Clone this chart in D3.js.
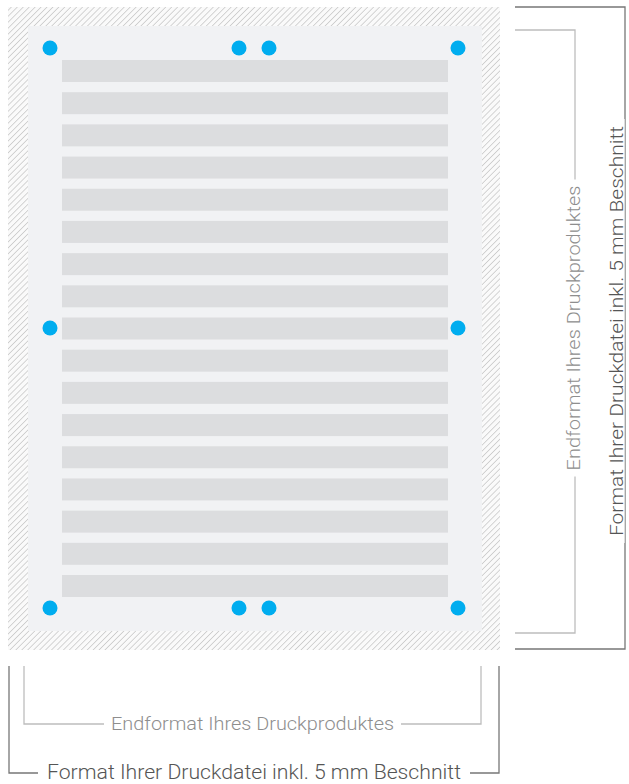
<!DOCTYPE html>
<html>
<head>
<meta charset="utf-8">
<script src="https://cdn.jsdelivr.net/npm/d3@7"></script>
<style>
  body { margin: 0; background: #fff; }
  svg { display: block; }
</style>
</head>
<body>
<div id="chart"></div>
<script>
// Page layout values (pixels of the drawing)
var bleedBox = [8, 7, 500, 650];      // x0, y0, x1, y1 of the file incl. bleed
var trimBox  = [28, 26, 482, 631];    // final format
var textRows = ["r1","r2","r3","r4","r5","r6","r7","r8","r9","r10","r11","r12","r13","r14","r15","r16","r17"];
var dotCols = [22, 211, 241, 430];    // offsets from trim box left
var dotRows = [22, 302, 582];         // offsets from trim box top
var dots = [
  [0, 0], [1, 0], [2, 0], [3, 0],
  [0, 1], [3, 1],
  [0, 2], [1, 2], [2, 2], [3, 2]
];
var labelTrim  = "Endformat Ihres Druckproduktes";
var labelBleed = "Format Ihrer Druckdatei inkl. 5 mm Beschnitt";

var width = 629, height = 784;

var svg = d3.select("#chart").append("svg")
    .attr("width", width)
    .attr("height", height);

var defs = svg.append("defs");
var pat = defs.append("pattern")
    .attr("id", "hatch")
    .attr("patternUnits", "userSpaceOnUse")
    .attr("width", 4.2)
    .attr("height", 4.2)
    .attr("patternTransform", "rotate(45)");
pat.append("rect").attr("width", 4.2).attr("height", 4.2).attr("fill", "#fafafa");
pat.append("line")
    .attr("x1", 0).attr("y1", 0).attr("x2", 0).attr("y2", 4.2)
    .attr("stroke", "#c8c8c8").attr("stroke-width", 1.5);

// bleed area
svg.append("rect")
    .attr("x", bleedBox[0]).attr("y", bleedBox[1])
    .attr("width", bleedBox[2] - bleedBox[0])
    .attr("height", bleedBox[3] - bleedBox[1])
    .attr("fill", "url(#hatch)");

// trim area
svg.append("rect")
    .attr("x", trimBox[0]).attr("y", trimBox[1])
    .attr("width", trimBox[2] - trimBox[0])
    .attr("height", trimBox[3] - trimBox[1])
    .attr("fill", "#f1f2f4");

// text placeholder bars
var y = d3.scaleBand()
    .domain(textRows)
    .range([60, 597])
    .paddingInner(0.317)
    .paddingOuter(0);

svg.append("g").selectAll("rect")
  .data(textRows)
  .enter().append("rect")
    .attr("x", 62)
    .attr("width", 448 - 62)
    .attr("y", function(d){ return y(d); })
    .attr("height", y.bandwidth())
    .attr("fill", "#dcdddf");

// registration dots
var dx = d3.scaleLinear().domain([0, trimBox[2] - trimBox[0]]).range([trimBox[0], trimBox[2]]);
var dy = d3.scaleLinear().domain([0, trimBox[3] - trimBox[1]]).range([trimBox[1], trimBox[3]]);

svg.append("g").selectAll("circle")
  .data(dots)
  .enter().append("circle")
    .attr("cx", function(d){ return dx(dotCols[d[0]]); })
    .attr("cy", function(d){ return dy(dotRows[d[1]]); })
    .attr("r", 7.5)
    .attr("fill", "#00adef");

// dimension brackets
function bracket(points, color, sw){
  svg.append("path")
    .attr("d", d3.line()(points))
    .attr("fill", "none")
    .attr("stroke", color)
    .attr("stroke-width", sw);
}

function label(txt, x, yy, size, len, color, rotate, gap){
  var g = svg.append("g")
      .attr("transform", "translate(" + x + "," + yy + ")" + (rotate ? " rotate(-90)" : ""));
  var bg = g.append("rect").attr("fill", "#fff");
  g.append("text")
      .attr("text-anchor", "middle")
      .attr("dy", "0.34em")
      .attr("font-family", "Roboto, 'Open Sans', sans-serif")
      .attr("font-weight", 300)
      .attr("font-size", size)
      .attr("fill", color)
      .attr("textLength", len)
      .attr("lengthAdjust", "spacingAndGlyphs")
      .text(txt);
  bg.attr("x", -len / 2 - gap).attr("width", len + 2 * gap)
    .attr("y", -size * 0.4).attr("height", size * 0.8);
}

// right side
bracket([[515, 7], [625, 7], [625, 649], [515, 649]], "#777", 1.3);
bracket([[515, 30], [575, 30], [575, 633], [515, 633]], "#bdbdbd", 1.3);
// bottom
bracket([[9, 666], [9, 773], [499, 773], [499, 666]], "#777", 1.3);
bracket([[24, 666], [24, 724], [481, 724], [481, 666]], "#bdbdbd", 1.3);

label(labelBleed, 254, 772, 20, 414, "#555", false, 9);
label(labelTrim, 252.5, 723.5, 18, 283, "#8e8e8e", false, 7);
label(labelBleed, 617, 331, 19, 410, "#555", true, 7);
label(labelTrim, 574, 328, 18, 285, "#8e8e8e", true, 6);
</script>
</body>
</html>
